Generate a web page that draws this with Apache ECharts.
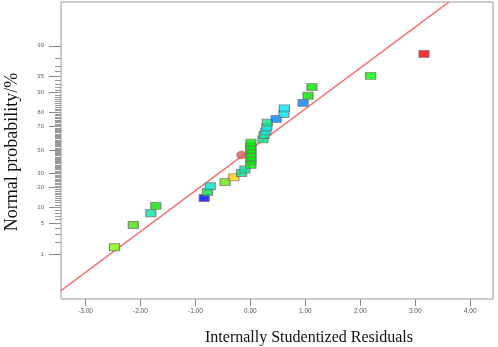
<!DOCTYPE html>
<html><head><meta charset="utf-8">
<script src="https://cdn.jsdelivr.net/npm/echarts@6/dist/echarts.min.js"></script>
<style>html,body{margin:0;padding:0;background:#fff}#c{width:498px;height:347px}</style>
</head><body><div id="c"></div>
<script>
// Internally studentized residuals (x) and normal probability % (y)
const residuals = [-2.47, -2.13, -1.81, -1.72, -0.84, -0.78, -0.73, -0.46, -0.30, -0.16, -0.10,
  0.01, 0.01, 0.01, 0.01, 0.01, 0.01, 0.01,
  0.23, 0.25, 0.28, 0.30, 0.31, 0.47, 0.61, 0.62, 0.96, 1.05, 1.12, 2.19, 3.16];
const probabilities = [1.5, 4.7, 7.9, 10.6, 14.2, 17.4, 20.9, 23.7, 27.1, 30.4, 33.2,
  37.0, 40.4, 43.6, 46.8, 50.0, 53.2, 56.5,
  59.4, 63.1, 66.1, 69.4, 72.9, 75.6, 78.9, 82.4, 85.4, 88.7, 92.0, 95.1, 98.4];
const pointColors = ['#7fff00', '#40e000', '#00e6a0', '#00e600', '#0000ff', '#00e640', '#00e6c8', '#66e600', '#ffd000', '#00e68a', '#00e6a0',
  '#00e600', '#00e600', '#00e600', '#00e600', '#00e600', '#00e600', '#00e600',
  '#00e68a', '#00e6a0', '#00e6e6', '#00e6e6', '#00e680', '#0080ff', '#00e6f0', '#00e6f0', '#0080ff', '#00e600', '#00e600', '#00ff00', '#ff0000'];
// red ellipse marker
const markerX = [-0.16];
const markerP = [45.6];
// reference line: residual endpoints and normal scores
const lineX = [-3.445, 3.61];
const lineZ = [-3.14, 3.30];
// y-axis tick labels (%)
const majorTicks = [1, 5, 10, 20, 30, 50, 70, 80, 90, 95, 99];
const minorTicks = [];
for (let p = 2; p <= 98; p++) minorTicks.push(p);
const xTicks = [-3, -2, -1, 0, 1, 2, 3, 4];

// inverse normal CDF (probability scale transform)
function probit(p) {
  const a = [-3.969683028665376e+01, 2.209460984245205e+02, -2.759285104469687e+02, 1.383577518672690e+02, -3.066479806614716e+01, 2.506628277459239e+00];
  const b = [-5.447609879822406e+01, 1.615858368580409e+02, -1.556989798598866e+02, 6.680131188771972e+01, -1.328068155288572e+01];
  const c = [-7.784894002430293e-03, -3.223964580411365e-01, -2.400758277161838e+00, -2.549732539343734e+00, 4.374664141464968e+00, 2.938163982698783e+00];
  const d = [7.784695709041462e-03, 3.224671290700398e-01, 2.445134137142996e+00, 3.754408661907416e+00];
  const plow = 0.02425;
  let q, r;
  if (p < plow) {
    q = Math.sqrt(-2 * Math.log(p));
    return (((((c[0]*q+c[1])*q+c[2])*q+c[3])*q+c[4])*q+c[5]) / ((((d[0]*q+d[1])*q+d[2])*q+d[3])*q+1);
  } else if (p <= 1 - plow) {
    q = p - 0.5; r = q * q;
    return (((((a[0]*r+a[1])*r+a[2])*r+a[3])*r+a[4])*r+a[5])*q / (((((b[0]*r+b[1])*r+b[2])*r+b[3])*r+b[4])*r+1);
  } else {
    q = Math.sqrt(-2 * Math.log(1 - p));
    return -(((((c[0]*q+c[1])*q+c[2])*q+c[3])*q+c[4])*q+c[5]) / ((((d[0]*q+d[1])*q+d[2])*q+d[3])*q+1);
  }
}
const z = p => probit(p / 100);
const majorZ = majorTicks.map(z);
const minorZ = minorTicks.map(z);

const pts = residuals.map((x, i) => ({
  value: [x, z(probabilities[i])],
  itemStyle: { color: pointColors[i] }
}));

const yMin = -3.326, yMax = 3.304;
const chart = echarts.init(document.getElementById('c'), null, { renderer: 'canvas' });
chart.setOption({
  animation: false,
  grid: { left: 61, top: 2, right: 5, bottom: 48, show: true, borderColor: '#9a9a9a', borderWidth: 1 },
  xAxis: {
    type: 'value', min: -3.445, max: 4.415, position: 'bottom',
    axisLine: { show: false, onZero: false },
    splitLine: { show: false },
    axisTick: { show: true, customValues: xTicks, length: 7, lineStyle: { color: '#888' } },
    axisLabel: { customValues: xTicks, formatter: v => v.toFixed(2), fontSize: 6.5, color: '#555', margin: 9, fontFamily: 'Arial, Liberation Sans, sans-serif' }
  },
  yAxis: [{
    type: 'value', min: yMin, max: yMax, position: 'left',
    axisLine: { show: false, onZero: false },
    splitLine: { show: false },
    axisTick: { show: true, customValues: majorZ, length: 12, lineStyle: { color: '#888' } },
    axisLabel: {
      customValues: majorZ, fontSize: 6, color: '#666', margin: 17,
      fontFamily: 'Arial, Liberation Sans, sans-serif',
      formatter: v => {
        let best = 0, bd = 1e9;
        majorZ.forEach((m, i) => { const dd = Math.abs(m - v); if (dd < bd) { bd = dd; best = i; } });
        return String(majorTicks[best]);
      }
    }
  }, {
    type: 'value', min: yMin, max: yMax, position: 'left',
    axisLine: { show: false, onZero: false },
    splitLine: { show: false },
    axisTick: { show: true, customValues: minorZ, length: 6, lineStyle: { color: '#999' } },
    axisLabel: { show: false }
  }],
  series: [{
    type: 'line', data: lineX.map((x, i) => [x, lineZ[i]]),
    symbol: 'none', clip: true,
    lineStyle: { color: '#f47474', width: 1.5 }, z: 1
  }, {
    type: 'scatter', data: markerX.map((x, i) => [x, z(markerP[i])]),
    symbol: 'circle', symbolSize: [10, 8],
    itemStyle: { color: '#d65a5a', borderColor: '#b04444', borderWidth: 0.5 }, z: 2
  }, {
    type: 'scatter', data: pts,
    symbol: 'rect', symbolSize: [10, 7],
    itemStyle: { borderColor: '#707070', borderWidth: 1 }, z: 3
  }],
  graphic: [{
    type: 'text', x: 309, y: 338,
    style: { text: 'Internally Studentized Residuals', font: '16px "Liberation Serif", "Times New Roman", serif', fill: '#111', align: 'center', verticalAlign: 'middle' }
  }, {
    type: 'text', x: 12, y: 152, rotation: Math.PI / 2,
    style: { text: 'Normal probability/%', font: '18px "Liberation Serif", "Times New Roman", serif', fill: '#111', align: 'center', verticalAlign: 'middle' }
  }]
});
</script></body></html>
